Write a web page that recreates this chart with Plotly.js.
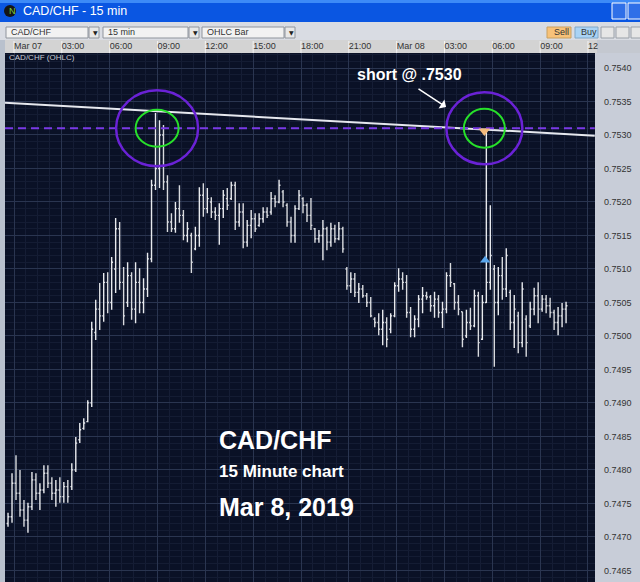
<!DOCTYPE html>
<html>
<head>
<meta charset="utf-8">
<script src="https://cdn.plot.ly/plotly-3.0.1.min.js"></script>
<style>
html,body{margin:0;padding:0;background:#c8cdd8;}
#chart{width:640px;height:582px;}
</style>
</head>
<body>
<div id="chart"></div>
<script>
// ---- data (CAD/CHF 15 min bars, Mar 07 -> Mar 08 2019) ----
const highs = [.74736,.74795,.74822,.74800,.74755,.74751,.74797,.74795,.74780,.74807,
.74807,.74789,.74785,.74789,.74782,.74785,.74810,.74849,.74870,.74877,
.74904,.75021,.75054,.75079,.75094,.75095,.75118,.75176,.75170,.75103,
.75110,.75095,.75110,.75101,.75086,.75124,.75233,.75333,.75322,.75315,
.75240,.75183,.75200,.75225,.75188,.75170,.75154,.75163,.75222,.75228,
.75221,.75207,.75192,.75198,.75218,.75221,.75230,.75230,.75198,.75198,
.75173,.75188,.75183,.75183,.75192,.75192,.75215,.75210,.75233,.75218,
.75198,.75178,.75195,.75218,.75207,.75198,.75206,.75161,.75158,.75173,
.75163,.75169,.75166,.75170,.75163,.75103,.75095,.75094,.75079,.75076,
.75064,.75058,.75028,.75034,.75039,.75028,.75034,.75080,.75101,.75095,
.75091,.75043,.75031,.75061,.75073,.75066,.75061,.75066,.75061,.75051,
.75095,.75109,.75079,.75061,.75036,.75039,.75042,.75069,.75066,.75061,
.75310,.75195,.75106,.75103,.75118,.75131,.75069,.75061,.75036,.75080,
.75031,.75051,.75072,.75080,.75061,.75061,.75057,.75039,.75043,.75049,
.75051];
const lows = [.74715,.74721,.74755,.74730,.74715,.74706,.74740,.74755,.74740,.74765,
.74773,.74755,.74745,.74751,.74751,.74751,.74770,.74797,.74840,.74860,
.74871,.74894,.74994,.75009,.75021,.75034,.75039,.75064,.75069,.75016,
.75043,.75024,.75019,.75034,.75034,.75058,.75110,.75218,.75221,.75218,
.75155,.75155,.75154,.75169,.75143,.75140,.75094,.75128,.75133,.75178,
.75183,.75176,.75173,.75136,.75176,.75188,.75203,.75158,.75163,.75131,
.75133,.75146,.75155,.75163,.75169,.75176,.75181,.75192,.75198,.75192,
.75163,.75139,.75139,.75188,.75183,.75170,.75158,.75139,.75139,.75113,
.75128,.75133,.75139,.75143,.75124,.75069,.75064,.75058,.75049,.75057,
.75043,.75028,.75013,.75001,.74986,.74983,.75004,.75028,.75066,.75069,
.75027,.74998,.74998,.75013,.75034,.75054,.75036,.75027,.75027,.75012,
.75034,.75073,.75039,.75031,.74983,.74997,.75009,.75013,.74969,.74994,
.75049,.75069,.74954,.75031,.75054,.75058,.75009,.74982,.74974,.74983,
.74969,.75012,.75031,.75019,.75036,.75034,.75027,.75009,.75001,.75013,
.75019];
const opens = [.74720,.74730,.74780,.74765,.74740,.74725,.74745,.74785,.74765,.74770,
.74795,.74780,.74765,.74770,.74760,.74775,.74775,.74800,.74845,.74862,
.74872,.74900,.75005,.75040,.75030,.75080,.75050,.75100,.75160,.75080,
.75050,.75090,.75040,.75080,.75050,.75070,.75115,.75225,.75250,.75300,
.75230,.75170,.75160,.75190,.75180,.75150,.75150,.75130,.75150,.75210,
.75190,.75200,.75185,.75180,.75190,.75205,.75205,.75225,.75170,.75185,
.75140,.75165,.75175,.75165,.75175,.75185,.75185,.75205,.75200,.75215,
.75195,.75170,.75150,.75190,.75205,.75195,.75180,.75160,.75145,.75150,
.75160,.75140,.75160,.75145,.75160,.75100,.75075,.75085,.75065,.75070,
.75060,.75050,.75025,.75020,.75010,.75020,.75010,.75030,.75075,.75085,
.75080,.75035,.75010,.75025,.75055,.75060,.75058,.75045,.75055,.75035,
.75040,.75090,.75078,.75050,.75036,.75000,.75020,.75015,.75060,.74995,
.75050,.75080,.75100,.75050,.75090,.75070,.75065,.75020,.75030,.74990,
.75025,.75015,.75040,.75060,.75040,.75055,.75045,.75035,.75020,.75030,
.75040];
const closes = [.74730,.74780,.74765,.74740,.74725,.74745,.74785,.74765,.74770,.74795,
.74780,.74765,.74770,.74760,.74775,.74760,.74800,.74840,.74860,.74870,
.74900,.75010,.75040,.75030,.75080,.75050,.75110,.75160,.75080,.75030,
.75090,.75040,.75080,.75050,.75070,.75115,.75225,.75250,.75300,.75230,
.75170,.75160,.75190,.75180,.75150,.75160,.75110,.75150,.75210,.75190,
.75205,.75185,.75180,.75190,.75210,.75195,.75225,.75170,.75185,.75140,
.75165,.75175,.75160,.75175,.75185,.75180,.75205,.75200,.75225,.75200,
.75170,.75150,.75190,.75210,.75195,.75180,.75165,.75145,.75150,.75160,
.75140,.75160,.75145,.75160,.75130,.75075,.75085,.75065,.75070,.75060,
.75050,.75030,.75020,.75010,.75020,.74995,.75030,.75075,.75085,.75080,
.75035,.75010,.75025,.75055,.75060,.75058,.75045,.75055,.75035,.75040,
.75090,.75080,.75050,.75040,.74995,.75020,.75015,.75060,.74990,.75050,
.75080,.75120,.75050,.75090,.75070,.75120,.75020,.75040,.74990,.75070,
.74990,.75040,.75060,.75040,.75055,.75045,.75035,.75020,.75030,.75040,
.75045];
const timeLabels = ["Mar 07","03:00","06:00","09:00","12:00","15:00","18:00","21:00","Mar 08","03:00","06:00","09:00","12"];
const priceTicks = [0.7465,0.7470,0.7475,0.7480,0.7485,0.7490,0.7495,0.7500,0.7505,0.7510,0.7515,0.7520,0.7525,0.7530,0.7535,0.7540];
const shortLevel = 0.7531;          // dashed purple line
const trendX = [-0.76, 147.2];      // white resistance line (bar index)
const trendY = [0.75348, 0.75299];
const sellSignal = {bar: 120, price: 0.75306};
const buySignal  = {bar: 120, price: 0.75113};

// ---- geometry helpers (pixel -> paper) ----
const L = 5, R = 595, T = 53, B = 582;
const P = px => (px - L) / (R - L);
const Q = py => (B - py) / (B - T);
const barIdx = highs.map((_, i) => i);
const barsPerLabel = 12;
const labelVals = timeLabels.map((_, k) => 1.5 + barsPerLabel * k);

const shapes = [];
const ann = [];
function rect(x0, y0, x1, y1, fill, lineColor) {
  shapes.push({type: 'rect', xref: 'paper', yref: 'paper', x0: P(x0), x1: P(x1), y0: Q(y1), y1: Q(y0),
    fillcolor: fill, line: {width: lineColor ? 1 : 0, color: lineColor || fill}, layer: 'below'});
}
function text(px, py, s, opt) {
  ann.push(Object.assign({xref: 'paper', yref: 'paper', x: P(px), y: Q(py), text: s, showarrow: false,
    xanchor: 'left', yanchor: 'middle', font: {family: 'Liberation Sans, Arial', size: 9, color: '#222'}}, opt || {}));
}

// window chrome
rect(0, 0, 640, 22, '#0a56e2');
rect(0, 0, 640, 3, '#3d8af7');
rect(0, 22, 640, 40, '#d9dce3');
rect(0, 40, 5, 582, '#b9c1cd');
rect(5, 40, 597, 53, '#d3d3d3');
rect(597, 40, 640, 53, '#c4c8d0');
rect(612, 3, 626, 19, '#2f6fe8', '#ffffff');
rect(628, 3, 642, 19, '#2f6fe8', '#ffffff');
shapes.push({type: 'circle', xref: 'paper', yref: 'paper', x0: P(4), x1: P(16), y0: Q(17), y1: Q(5), fillcolor: '#151515', line: {width: 0}, layer: 'below'});
text(6.5, 11, 'N', {font: {family: 'Liberation Sans', size: 9, color: '#7fd13b'}});
text(21, 11, 'CAD/CHF - 15 min', {font: {family: 'Liberation Sans', size: 12.5, color: '#ffffff'}});
// toolbar
[[6, 88, 'CAD/CHF'], [103, 188, '15 min'], [202, 284, 'OHLC Bar']].forEach(([a, b, s]) => {
  rect(a, 27, b, 38, '#f2f2f2', '#8f949c');
  rect(b + 1, 27, b + 11, 38, '#e8e8e8', '#8f949c');
  text(a + 3, 32.5, s, {font: {family: 'Liberation Sans', size: 9, color: '#333'}});
  text(b + 3, 32.5, '▼', {font: {family: 'DejaVu Sans', size: 6, color: '#222'}});
});
rect(547, 27, 571, 38, '#f7c27a', '#c9a060');
rect(575, 27, 598, 38, '#a9d3f5', '#80a8c8');
text(552, 32.5, 'Sell', {font: {family: 'Liberation Sans', size: 9, color: '#333'}});
text(579, 32.5, 'Buy', {font: {family: 'Liberation Sans', size: 9, color: '#333'}});
rect(601, 27, 614, 38, '#e6e6e6', '#9aa0a8');
rect(616, 27, 629, 38, '#e6e6e6', '#9aa0a8');
rect(631, 27, 641, 38, '#e6e6e6', '#9aa0a8');
// header dividers
labelVals.forEach(v => shapes.push({type: 'line', xref: 'x', yref: 'paper', x0: v, x1: v, y0: 1, y1: Q(41),
  line: {color: '#f4f4f4', width: 1}, layer: 'below'}));

text(7, 57.5, 'CAD/CHF (OHLC)', {font: {family: 'Liberation Sans', size: 8, color: '#c9ccd4'}});

// circles around the two tops
function ring(bar, price, rx, ry, color, w) {
  shapes.push({type: 'circle', xref: 'x', yref: 'y', xsizemode: 'pixel', ysizemode: 'pixel',
    xanchor: bar, yanchor: price, x0: -rx, x1: rx, y0: -ry, y1: ry, line: {color: color, width: w}, layer: 'above'});
}
const firstTop = highs.indexOf(Math.max(...highs.slice(0, 60)));
ring(firstTop + 0.4, shortLevel, 41, 38, '#6a22d6', 2.5);
ring(firstTop + 0.4, shortLevel, 21.5, 18.5, '#27e02a', 2);
ring(sellSignal.bar - 0.5, shortLevel, 38, 36, '#6a22d6', 2.5);
ring(sellSignal.bar - 0.5, shortLevel, 20.5, 19.5, '#27e02a', 2);

// text annotations
text(410, 75, 'short @ .7530', {xanchor: 'center', font: {family: 'Liberation Sans', size: 16, color: '#ffffff', weight: 'bold'}});
ann.push({xref: 'paper', yref: 'paper', x: P(446), y: Q(107), ax: -29, ay: -19, axref: 'pixel', ayref: 'pixel',
  text: '', showarrow: true, arrowhead: 1, arrowsize: 1.2, arrowwidth: 1.5, arrowcolor: '#ffffff'});
text(217, 440, 'CAD/CHF', {font: {family: 'Liberation Sans', size: 25, color: '#ffffff', weight: 'bold'}});
text(217, 471, '15 Minute chart', {font: {family: 'Liberation Sans', size: 17, color: '#ffffff', weight: 'bold'}});
text(217, 507, 'Mar 8, 2019', {font: {family: 'Liberation Sans', size: 25, color: '#ffffff', weight: 'bold'}});

const traces = [
  {type: 'ohlc', x: barIdx, open: opens, high: highs, low: lows, close: closes,
   increasing: {line: {color: '#e8eaee', width: 1.4}}, decreasing: {line: {color: '#d8dade', width: 1.4}},
   tickwidth: 0.35, hoverinfo: 'skip', showlegend: false},
  {type: 'scatter', mode: 'lines', x: trendX, y: trendY, line: {color: '#e6e8ee', width: 2}, hoverinfo: 'skip', showlegend: false},
  {type: 'scatter', mode: 'lines', x: trendX, y: [shortLevel, shortLevel], line: {color: '#7a3ae6', width: 2, dash: '8px,5px'}, hoverinfo: 'skip', showlegend: false},
  {type: 'scatter', mode: 'markers', x: [sellSignal.bar - 0.5], y: [sellSignal.price], marker: {symbol: 'triangle-down', size: 10, color: '#f2b97c', line: {width: 0}}, hoverinfo: 'skip', showlegend: false},
  {type: 'scatter', mode: 'markers', x: [buySignal.bar - 0.3], y: [buySignal.price], marker: {symbol: 'triangle-up', size: 9, color: '#5aa6ec', line: {width: 0}}, hoverinfo: 'skip', showlegend: false}
];

const layout = {
  width: 640, height: 582,
  margin: {l: L, r: 640 - R, t: T, b: 582 - B, pad: 0},
  paper_bgcolor: '#c8cdd8', plot_bgcolor: '#0a1126',
  showlegend: false,
  xaxis: {range: [-0.76, 147.26], side: 'top', tickmode: 'array', tickvals: labelVals, ticktext: timeLabels,
    ticks: '', ticklabelposition: 'outside right', ticklabelstandoff: 1,
    tickfont: {family: 'Liberation Sans', size: 9, color: '#333'},
    showgrid: true, gridcolor: '#2a3550', gridwidth: 1, zeroline: false, showline: false,
    minor: {tickmode: 'linear', tick0: 1.5, dtick: 3, showgrid: true, gridcolor: '#151d35', gridwidth: 1},
    rangeslider: {visible: false}, fixedrange: true},
  yaxis: {range: [0.746326, 0.754224], side: 'right', tickmode: 'array', tickvals: priceTicks, tickformat: '.4f',
    ticks: '', ticklabelstandoff: 8, tickfont: {family: 'Liberation Sans', size: 9, color: '#333'},
    showgrid: true, gridcolor: '#2a3550', gridwidth: 1, zeroline: false, showline: false,
    minor: {tickmode: 'linear', tick0: 0.7465, dtick: 0.0001, showgrid: true, gridcolor: '#141c33', gridwidth: 1},
    fixedrange: true},
  shapes: shapes, annotations: ann
};
Plotly.newPlot('chart', traces, layout, {displayModeBar: false, staticPlot: true});
</script>
</body>
</html>
